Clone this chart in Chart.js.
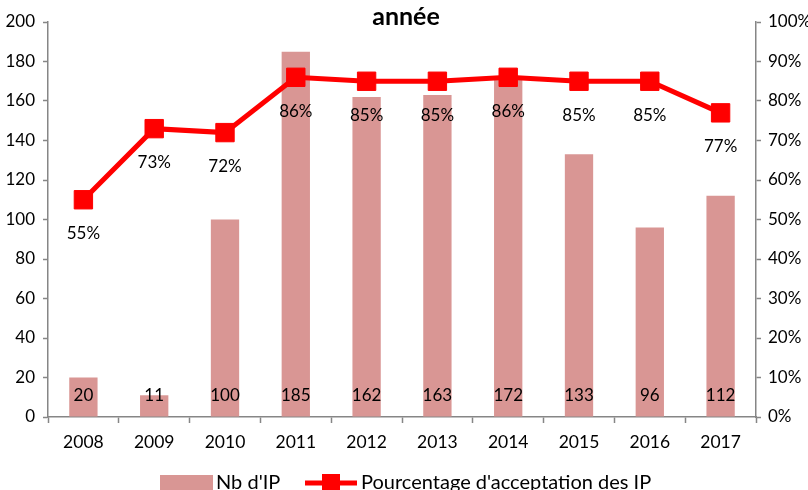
<!DOCTYPE html>
<html>
<head>
    <title>année</title>
    <script src="https://cdn.jsdelivr.net/npm/chart.js@4/dist/chart.umd.min.js"></script>
    <style>
        html, body { margin: 0; padding: 0; background: #fff; overflow: hidden; }
        #chart { display: block; }
    </style>
</head>
<body>
    <canvas id="chart" width="808" height="490"></canvas>

    <script>
    // values
    const years = ['2008', '2009', '2010', '2011', '2012', '2013', '2014', '2015', '2016', '2017'];
    const nbIP = [20, 11, 100, 185, 162, 163, 172, 133, 96, 112];
    const acceptance = [55, 73, 72, 86, 85, 85, 86, 85, 85, 77];

    const barColor = '#D99694';
    const lineColor = '#FF0000';
    const axisColor = '#868686';
    const font = 'Lato, "Open Sans", sans-serif';

    // title, data labels and legend drawn by hand
    const extras = {
        id: 'extras',
        afterDatasetsDraw(chart) {
            const ctx = chart.ctx;
            ctx.save();
            ctx.fillStyle = '#000';
            ctx.textAlign = 'center';
            ctx.textBaseline = 'middle';

            // bar values, at the base of each bar
            ctx.font = '17px ' + font;
            chart.getDatasetMeta(0).data.forEach((bar, i) => {
                ctx.fillText(nbIP[i], bar.x, bar.base - 21);
            });

            // percentages, under each point
            chart.getDatasetMeta(1).data.forEach((pt, i) => {
                ctx.fillText(acceptance[i] + '%', pt.x, pt.y + 34);
            });

            // title
            ctx.font = 'bold 25px ' + font;
            ctx.fillText('année', 406, 17);

            // legend
            const ly = 483;
            ctx.fillStyle = barColor;
            ctx.fillRect(160, ly - 8, 53, 16);
            ctx.fillStyle = '#000';
            ctx.textAlign = 'left';
            ctx.font = '20px ' + font;
            ctx.fillText("Nb d'IP", 216, ly);

            ctx.strokeStyle = lineColor;
            ctx.lineWidth = 5;
            ctx.beginPath();
            ctx.moveTo(305, ly);
            ctx.lineTo(357, ly);
            ctx.stroke();
            ctx.fillStyle = lineColor;
            ctx.fillRect(322, ly - 9, 18, 18);
            ctx.fillStyle = '#000';
            ctx.fillText("Pourcentage d'acceptation des IP", 361, ly);
            ctx.restore();
        }
    };

    new Chart(document.getElementById('chart'), {
        data: {
            labels: years,
            datasets: [
                {
                    type: 'bar',
                    label: "Nb d'IP",
                    data: nbIP,
                    backgroundColor: barColor,
                    categoryPercentage: 1,
                    barPercentage: 0.4,
                    yAxisID: 'y',
                    order: 2
                },
                {
                    type: 'line',
                    label: "Pourcentage d'acceptation des IP",
                    data: acceptance,
                    borderColor: lineColor,
                    backgroundColor: lineColor,
                    borderWidth: 5,
                    pointStyle: 'rect',
                    pointRadius: 13,
                    pointBorderWidth: 1,
                    tension: 0,
                    yAxisID: 'y1',
                    order: 1
                }
            ]
        },
        options: {
            responsive: false,
            animation: false,
            layout: { padding: { top: 22, left: 0, right: 0, bottom: 0 } },
            plugins: {
                legend: { display: false },
                tooltip: { enabled: false }
            },
            scales: {
                x: {
                    grid: {
                        drawOnChartArea: false,
                        color: axisColor,
                        tickLength: 6,
                        tickWidth: 1.5
                    },
                    border: { color: axisColor, width: 1.5 },
                    ticks: {
                        color: '#000',
                        font: { family: font, size: 17.5 },
                        padding: 9
                    },
                    afterFit(scale) { scale.height = 73; }
                },
                y: {
                    position: 'left',
                    min: 0,
                    max: 200,
                    ticks: {
                        stepSize: 20,
                        color: '#000',
                        font: { family: font, size: 17 },
                        padding: 8
                    },
                    grid: {
                        drawOnChartArea: false,
                        color: axisColor,
                        tickLength: 5,
                        tickWidth: 1.5
                    },
                    border: { color: axisColor, width: 1.5 },
                    afterFit(scale) { scale.width = 48; }
                },
                y1: {
                    position: 'right',
                    min: 0,
                    max: 100,
                    ticks: {
                        stepSize: 10,
                        color: '#000',
                        font: { family: font, size: 17 },
                        padding: 7,
                        callback: v => v + '%'
                    },
                    grid: {
                        drawOnChartArea: false,
                        color: axisColor,
                        tickLength: 5,
                        tickWidth: 1.5
                    },
                    border: { color: axisColor, width: 1.5 },
                    afterFit(scale) { scale.width = 52; }
                }
            }
        },
        plugins: [extras]
    });
    </script>
</body>
</html>
